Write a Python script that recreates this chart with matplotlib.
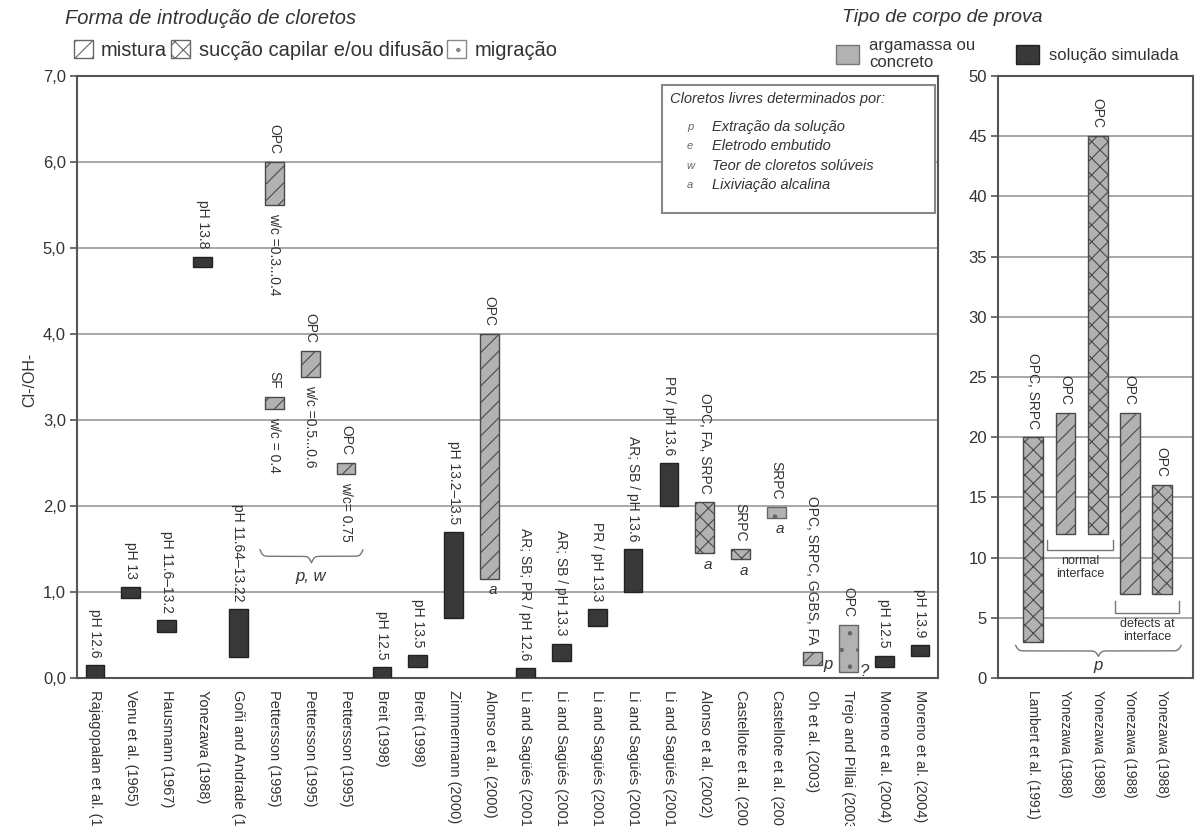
import matplotlib
matplotlib.use("Agg")
import matplotlib.pyplot as plt
from matplotlib.patches import Patch, Rectangle
import numpy as np

plt.rcParams["font.family"] = ["Liberation Sans", "DejaVu Sans"]
plt.rcParams["hatch.linewidth"] = 0.8

# ---------------- data: Cl-/OH- ranges reported in the literature ----------------
studies = [
    "Rajagopalan et al. (1", "Venu et al. (1965)", "Hausmann (1967)", "Yonezawa (1988)",
    "Goñi and Andrade (1", "Pettersson (1995)", "Pettersson (1995)", "Pettersson (1995)",
    "Breit (1998)", "Breit (1998)", "Zimmermann (2000)", "Alonso et al. (2000)",
    "Li and Sagüés (2001", "Li and Sagüés (2001", "Li and Sagüés (2001",
    "Li and Sagüés (2001", "Li and Sagüés (2001", "Alonso et al. (2002)",
    "Castellote et al. (200", "Castellote et al. (200", "Oh et al. (2003)",
    "Trejo and Pillai (2003", "Moreno et al. (2004)", "Moreno et al. (2004)",
]
cl_low = [0.00, 0.93, 0.54, 4.78, 0.25, 5.50, 3.50, 2.37, 0.00, 0.13, 0.70, 1.15,
          0.00, 0.20, 0.60, 1.00, 2.00, 1.45, 1.38, 1.86, 0.15, 0.07, 0.13, 0.26]
cl_high = [0.15, 1.06, 0.67, 4.90, 0.80, 6.00, 3.80, 2.50, 0.13, 0.27, 1.70, 4.00,
           0.12, 0.40, 0.80, 1.50, 2.50, 2.05, 1.50, 1.99, 0.30, 0.62, 0.26, 0.38]
# sim = simulated pore solution, mix = admixed, cap = capillary suction/diffusion, mig = migration
kinds = ["sim", "sim", "sim", "sim", "sim", "mix", "mix", "mix", "sim", "sim", "sim", "mix",
         "sim", "sim", "sim", "sim", "sim", "cap", "cap", "mig", "mix", "mig", "sim", "sim"]
top_labels = ["pH 12.6", "pH 13", "pH 11.6–13.2", "pH 13.8", "pH 11.64–13.22", "OPC", "OPC", "OPC",
              "pH 12.5", "pH 13.5", "pH 13.2–13.5", "OPC", "AR; SB; PR / pH 12.6",
              "AR; SB / pH 13.3", "PR / pH 13.3", "AR; SB / pH 13.6", "PR / pH 13.6",
              "OPC, FA, SRPC", "SRPC", "SRPC", "OPC, SRPC, GGBS, FA", "OPC", "pH 12.5", "pH 13.9"]
bottom_labels = ["", "", "", "", "", "w/c =0.3...0.4", "w/c =0.5...0.6", "w/c= 0.75",
                 "", "", "", "", "", "", "", "", "", "", "", "", "", "", "", ""]
free_cl_method = ["", "", "", "", "", "", "", "", "", "", "", "a",
                  "", "", "", "", "", "a", "a", "a", "p", "?", "", ""]

# second Pettersson series (silica fume)
extra_pos = [5]
extra_low = [3.13]
extra_high = [3.27]
extra_top = ["SF"]
extra_bottom = ["w/c = 0.4"]

# right panel (cement-steel interface)
r_studies = ["Lambert et al. (1991)", "Yonezawa (1988)", "Yonezawa (1988)",
             "Yonezawa (1988)", "Yonezawa (1988)"]
r_low = [3, 12, 12, 7, 7]
r_high = [20, 22, 45, 22, 16]
r_kinds = ["cap", "mix", "cap", "mix", "cap"]
r_labels = ["OPC, SRPC", "OPC", "OPC", "OPC", "OPC"]

main_ticks = [0, 1, 2, 3, 4, 5, 6, 7]
right_ticks = [0, 5, 10, 15, 20, 25, 30, 35, 40, 45, 50]

# ---------------- styles ----------------
GRAY = "#b2b2b2"
DARK = "#383838"
EDGE = "#4a4a4a"
TXT = "#333333"
style = {
    "sim": dict(facecolor=DARK, edgecolor="#222222", hatch=None),
    "mix": dict(facecolor=GRAY, edgecolor=EDGE, hatch="//"),
    "cap": dict(facecolor=GRAY, edgecolor=EDGE, hatch="xx"),
    "mig": dict(facecolor=GRAY, edgecolor="#666666", hatch="."),
}

W, H = 1196, 826
fig = plt.figure(figsize=(W / 100, H / 100), dpi=100)
ax = fig.add_axes([77 / W, 1 - 678 / H, (938 - 77) / W, (678 - 76) / H])
ax2 = fig.add_axes([998 / W, 1 - 678 / H, (1193 - 998) / W, (678 - 76) / H])


def curly_brace(a, x0, x1, y_top, depth, beta, **kw):
    xs = np.linspace(x0, x1, 401)
    half = xs[:201]
    yh = 1 / (1 + np.exp(-beta * (half - half[0]))) + 1 / (1 + np.exp(-beta * (half - half[-1])))
    yb = np.concatenate([yh, yh[-2::-1]])
    a.plot(xs, y_top - (yb - 0.5) * depth, **kw)


def square_bracket(a, x0, x1, y_top, y_bot, **kw):
    a.plot([x0, x0, x1, x1], [y_top, y_bot, y_bot, y_top], **kw)


LBL = 10  # annotation font size

# ---------------- main panel ----------------
bw = 0.52
xpos = np.arange(len(studies))
for i in xpos:
    s = style[kinds[i]]
    ax.bar(i, cl_high[i] - cl_low[i], bottom=cl_low[i], width=bw, linewidth=1.0, zorder=3, **s)
    ax.text(i, cl_high[i] + 0.09, top_labels[i], rotation=270, ha="center", va="bottom",
            fontsize=LBL, color=TXT, zorder=4)
    if bottom_labels[i]:
        ax.text(i, cl_low[i] - 0.09, bottom_labels[i], rotation=270, ha="center", va="top",
                fontsize=LBL, color=TXT, zorder=4)
    m = free_cl_method[i]
    if m == "a":
        ax.text(i + 0.1, cl_low[i] - 0.05, m, ha="center", va="top", fontsize=11,
                style="italic", color=TXT, zorder=4)
    elif m:
        ax.text(i + bw / 2 + 0.05, cl_low[i] - 0.08, m, ha="left", va="bottom", fontsize=12,
                style="italic", color=TXT, zorder=4)

for p, lo, hi, tl, bl in zip(extra_pos, extra_low, extra_high, extra_top, extra_bottom):
    ax.bar(p, hi - lo, bottom=lo, width=bw, linewidth=1.0, zorder=3, **style["mix"])
    ax.text(p, hi + 0.09, tl, rotation=270, ha="center", va="bottom", fontsize=LBL, color=TXT)
    ax.text(p, lo - 0.09, bl, rotation=270, ha="center", va="top", fontsize=LBL, color=TXT)

# brace grouping the Pettersson series
curly_brace(ax, 5 - 0.4, 7 + 0.47, 1.49, 0.15, 25, color="#777777", lw=1.0)
ax.text(6, 1.27, "p, w", ha="center", va="top", fontsize=12, style="italic", color=TXT)

ax.set_xlim(-0.5, len(studies) - 0.5)
ax.set_ylim(0, 7)
ax.set_yticks(main_ticks)
ax.set_yticklabels([f"{t:.1f}".replace(".", ",") for t in main_ticks], fontsize=12, color=TXT)
ax.set_xticks(xpos)
ax.set_xticklabels(studies, rotation=270, fontsize=10.5, color=TXT, va="top", ha="center")
ax.tick_params(axis="x", length=0, pad=9)
ax.tick_params(axis="y", length=5, width=1.2, color="#555555", pad=3)
ax.yaxis.grid(True, color="#a0a0a0", lw=1.3)
ax.set_axisbelow(True)
for sp in ax.spines.values():
    sp.set_color("#555555")
    sp.set_linewidth(1.5)

# free-chloride determination key
ax.add_patch(Rectangle((0.679, 0.772), 0.3175, 0.213, transform=ax.transAxes,
                       facecolor="white", edgecolor="#888888", lw=1.5, zorder=5))
ax.text(0.689, 0.962, "Cloretos livres determinados por:", transform=ax.transAxes,
        fontsize=10.5, style="italic", color=TXT, va="center", ha="left", zorder=6)
key_letters = ["p", "e", "w", "a"]
key_texts = ["Extração da solução", "Eletrodo embutido", "Teor de cloretos solúveis",
             "Lixiviação alcalina"]
for k, (lt, tx) in enumerate(zip(key_letters, key_texts)):
    yy = 0.915 - k * 0.032
    ax.text(0.712, yy, lt, transform=ax.transAxes, fontsize=8, style="italic", color="#666666",
            va="center", ha="center", zorder=6)
    ax.text(0.7375, yy, tx, transform=ax.transAxes, fontsize=10.5, style="italic",
            color=TXT, va="center", ha="left", zorder=6)

fig.text(30 / W, 1 - 380 / H, "Cl-/OH-", rotation=90, fontsize=11.5, color=TXT,
         ha="center", va="center")

# ---------------- right panel ----------------
rx = np.arange(len(r_studies))
rbw = 0.62
for i in rx:
    s = style[r_kinds[i]]
    ax2.bar(i, r_high[i] - r_low[i], bottom=r_low[i], width=rbw, linewidth=1.0, zorder=3, **s)
    ax2.text(i, r_high[i] + 0.7, r_labels[i], rotation=270, ha="center", va="bottom",
             fontsize=LBL, color=TXT)

square_bracket(ax2, 0.44, 2.47, 11.5, 10.6, color="#777777", lw=1.0)
ax2.text(1.45, 10.2, "normal\ninterface", ha="center", va="top", fontsize=9,
         color=TXT, linespacing=1.1)
square_bracket(ax2, 2.53, 4.53, 6.4, 5.4, color="#777777", lw=1.0)
ax2.text(3.55, 5.0, "defects at\ninterface", ha="center", va="top", fontsize=9,
         color=TXT, linespacing=1.1)
curly_brace(ax2, -0.55, 4.6, 2.7, 0.9, 22, color="#777777", lw=1.0)
ax2.text(2.0, 1.65, "p", ha="center", va="top", fontsize=12, style="italic", color=TXT)

ax2.set_xlim(-1.1, 4.97)
ax2.set_ylim(0, 50)
ax2.set_yticks(right_ticks)
ax2.set_yticklabels([str(t) for t in right_ticks], fontsize=12, color=TXT)
ax2.set_xticks(rx)
ax2.set_xticklabels(r_studies, rotation=270, fontsize=10, color=TXT, va="top", ha="center")
ax2.tick_params(axis="x", length=0, pad=9)
ax2.tick_params(axis="y", length=5, width=1.2, color="#555555", pad=3)
ax2.yaxis.grid(True, color="#a0a0a0", lw=1.3)
ax2.set_axisbelow(True)
for sp in ax2.spines.values():
    sp.set_color("#555555")
    sp.set_linewidth(1.5)

# ---------------- legends ----------------
fig.text(65 / W, 1 - 18 / H, "Forma de introdução de cloretos", fontsize=14.5,
         style="italic", color=TXT, ha="left", va="center")
intro_handles = [
    Patch(facecolor="white", edgecolor="#666666", hatch="//", label="mistura"),
    Patch(facecolor="white", edgecolor="#666666", hatch="xx", label="sucção capilar e/ou difusão"),
    Patch(facecolor="white", edgecolor="#888888", hatch=".", label="migração"),
]
fig.legend(handles=intro_handles, loc="center left", bbox_to_anchor=(74 / W, 1 - 50 / H),
           ncol=3, frameon=False, fontsize=14.5, handlelength=0.95, handleheight=0.95,
           handletextpad=0.4, columnspacing=0.2, borderaxespad=0, borderpad=0,
           labelcolor=TXT)

fig.text(842 / W, 1 - 18 / H, "Tipo de corpo de prova", fontsize=14,
         style="italic", color=TXT, ha="left", va="center")
type_handles = [
    Patch(facecolor=GRAY, edgecolor="#777777", label="argamassa ou\nconcreto"),
    Patch(facecolor=DARK, edgecolor="#222222", label="solução simulada"),
]
fig.legend(handles=type_handles, loc="center left", bbox_to_anchor=(836 / W, 1 - 54 / H),
           ncol=2, frameon=False, fontsize=12, handlelength=1.4, handleheight=1.4,
           handletextpad=0.6, columnspacing=2.4, borderaxespad=0, borderpad=0,
           labelcolor=TXT, labelspacing=0.1)

fig.savefig("out.png", dpi=100)
